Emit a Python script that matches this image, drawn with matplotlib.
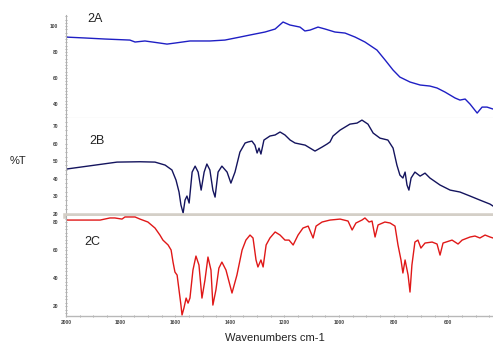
import numpy as np
import matplotlib
matplotlib.use("Agg")
import matplotlib.pyplot as plt
from matplotlib.ticker import MultipleLocator

plt.rcParams["font.family"] = ["Liberation Sans", "DejaVu Sans"]

# IR spectra, wavenumber (cm-1) vs %T
wn_a = [2000, 1930, 1857, 1766, 1747, 1711, 1656, 1630, 1601, 1546, 1473, 1418,
        1363, 1326, 1271, 1234, 1205, 1180, 1143, 1125, 1106, 1077, 1051, 1015,
        978, 941, 905, 861, 831, 802, 777, 740, 703, 667, 641, 612, 575, 557,
        538, 520, 494, 476, 458, 436]
t_a = [91.5, 90.8, 90.0, 89.2, 87.7, 88.5, 86.9, 86.1, 86.9, 88.5, 88.5, 89.2,
       91.5, 93.1, 95.4, 97.7, 103.1, 100.8, 99.2, 96.2, 96.9, 99.2, 97.7, 95.4,
       94.6, 91.5, 87.7, 81.5, 73.8, 66.1, 60.7, 56.9, 54.6, 53.8, 52.3, 49.2,
       44.6, 43.0, 43.8, 39.9, 33.0, 37.6, 37.6, 36.1]

wn_b = [2000, 1813, 1729, 1674, 1637, 1612, 1597, 1586, 1579, 1571, 1564, 1557,
        1549, 1538, 1527, 1516, 1505, 1494, 1484, 1473, 1462, 1454, 1443, 1429,
        1410, 1396, 1381, 1363, 1344, 1333, 1319, 1308, 1300, 1293, 1286, 1275,
        1253, 1234, 1216, 1198, 1179, 1161, 1124, 1088, 1062, 1044, 1033, 1022,
        996, 960, 934, 916, 894, 875, 850, 821, 802, 788, 777, 766, 758, 751,
        744, 736, 722, 703, 685, 667, 630, 593, 557, 520, 484, 447, 436]
t_b = [45.4, 49.4, 49.6, 49.4, 47.7, 44.9, 39.1, 32.3, 24.9, 20.3, 27.7, 30.0,
       26.0, 43.7, 47.1, 43.7, 33.4, 43.7, 48.3, 44.9, 33.4, 29.4, 43.7, 47.1,
       43.7, 37.4, 43.7, 55.1, 60.3, 60.9, 61.4, 59.1, 54.6, 57.4, 54.0, 62.0,
       64.3, 64.9, 66.6, 64.9, 62.0, 60.3, 59.1, 55.7, 58.0, 59.7, 60.9, 64.3,
       67.7, 71.1, 71.7, 73.4, 71.1, 66.0, 63.1, 62.0, 57.4, 47.7, 42.0, 40.3,
       43.7, 36.3, 33.4, 40.3, 43.7, 41.4, 43.1, 40.3, 36.3, 33.4, 32.3, 30.0,
       27.7, 25.4, 24.3]

wn_c = [2000, 1949, 1875, 1839, 1821, 1795, 1784, 1747, 1729, 1700, 1674, 1656,
        1645, 1626, 1615, 1608, 1601, 1593, 1586, 1579, 1575, 1568, 1560, 1553,
        1546, 1535, 1524, 1513, 1502, 1491, 1480, 1469, 1462, 1451, 1440, 1429,
        1414, 1392, 1374, 1355, 1341, 1326, 1315, 1304, 1297, 1286, 1278, 1267,
        1253, 1234, 1216, 1198, 1183, 1168, 1150, 1132, 1113, 1095, 1084, 1062,
        1033, 996, 967, 952, 938, 916, 905, 890, 879, 868, 857, 832, 813, 795,
        784, 773, 766, 758, 747, 740, 733, 722, 711, 700, 685, 659, 641, 630,
        619, 586, 564, 549, 520, 502, 484, 465, 447, 436]
t_c = [81.4, 81.4, 81.4, 82.9, 82.9, 82.1, 83.6, 83.6, 82.1, 80.0, 75.7, 70.7,
       67.1, 63.6, 60.0, 51.4, 44.3, 42.1, 31.4, 20.7, 13.6, 18.6, 25.7, 22.1,
       25.7, 45.7, 55.7, 49.3, 25.7, 38.6, 55.0, 45.7, 20.7, 31.4, 47.1, 51.4,
       45.7, 29.3, 42.1, 60.0, 67.1, 70.7, 68.6, 52.9, 47.9, 52.9, 47.9, 63.6,
       68.6, 72.9, 70.7, 67.1, 67.1, 63.6, 70.7, 75.7, 77.1, 68.6, 77.1, 80.0,
       81.4, 82.1, 80.7, 74.3, 79.3, 81.4, 82.9, 80.0, 80.7, 69.3, 77.9, 80.0,
       79.3, 77.1, 63.6, 52.9, 43.6, 52.9, 42.1, 30.0, 49.3, 65.7, 67.1, 61.4,
       65.0, 65.7, 64.3, 56.4, 65.0, 67.1, 64.3, 67.1, 69.3, 70.0, 68.6, 70.7,
       69.3, 68.6]

panels = [
    ("2A", wn_a, t_a, "#1f1fc4", (29.2, 108.5), [100, 80, 60, 40]),
    ("2B", wn_b, t_b, "#14145e", (18.6, 74.6), [70, 60, 50, 40, 30, 20]),
    ("2C", wn_c, t_c, "#e01818", (12.9, 84.3), [80, 60, 40, 20]),
]
x_ticks = [2000, 1800, 1600, 1400, 1200, 1000, 800, 600]

W, H = 493, 343
fig = plt.figure(figsize=(W / 100, H / 100), dpi=100)

# panel boxes in pixels: (top, bottom)
boxes = [(15, 118), (118, 216), (216, 316)]
label_pos = [(95, 19), (97, 141), (92, 242)]
left, right = 66, 493

axes = []
for (name, wn, t, color, ylim, yt), (top, bot), (lx, ly) in zip(panels, boxes, label_pos):
    ax = fig.add_axes([left / W, 1 - bot / H, (right - left) / W, (bot - top) / H])
    ax.plot(wn, t, color=color, lw=1.0)
    ax.set_xlim(2000, 436)
    ax.set_ylim(*ylim)
    ax.set_yticks(yt)
    ax.yaxis.set_minor_locator(MultipleLocator(2.5))
    ax.tick_params(axis="y", which="both", direction="inout", length=1.5,
                   width=0.6, color="#9a9a9a", labelsize=3.5, labelcolor="#444444",
                   pad=5)
    for lab in ax.get_yticklabels():
        lab.set_fontweight("bold")
    for s in ["top", "right"]:
        ax.spines[s].set_visible(False)
    ax.spines["left"].set_color("#b0b0b0")
    ax.spines["left"].set_linewidth(0.8)
    ax.spines["bottom"].set_color("#c8c8c8")
    ax.spines["bottom"].set_linewidth(0.8)
    ax.set_xticks([])
    fig.text(lx / W, 1 - ly / H, name, fontsize=9, ha="center", va="center",
             color="#222222")
    axes.append(ax)

# thick band between the second and third spectra
axes[1].spines["bottom"].set_color("#d4cfc7")
axes[1].spines["bottom"].set_linewidth(4.0)

ax_c = axes[2]
ax_c.set_xticks(x_ticks)
ax_c.set_xticklabels([str(v) for v in x_ticks], fontsize=3.5, color="#444444",
                     fontweight="bold")
ax_c.xaxis.set_minor_locator(MultipleLocator(50))
ax_c.tick_params(axis="x", which="both", direction="inout", length=1.5,
                 width=0.6, color="#9a9a9a", pad=2)
ax_c.spines["bottom"].set_color("#b8b8b8")
ax_c.spines["bottom"].set_linewidth(1.0)

fig.text(18 / W, 1 - 161 / H, "%T", fontsize=8, ha="center", va="center",
         color="#222222")
fig.text(275 / W, 1 - 338 / H, "Wavenumbers cm-1", fontsize=8, ha="center",
         va="center", color="#222222")

fig.savefig("out.png", dpi=100)
